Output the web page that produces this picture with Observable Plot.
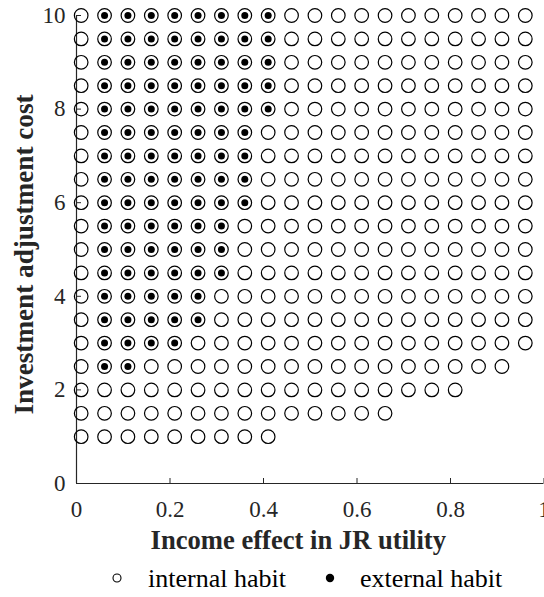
<!DOCTYPE html>
<html>
<head>
<meta charset="utf-8">
<script src="https://cdn.jsdelivr.net/npm/d3@7"></script>
<script src="https://cdn.jsdelivr.net/npm/@observablehq/plot@0.6"></script>
<style>
  body { margin: 0; background: #fff; font-family: "Liberation Serif", "Times New Roman", serif; }
  #legend { position: relative; width: 544px; height: 37px; color: #000; }
  #legend svg, #legend span { position: absolute; }
  #legend span { font-size: 26px; line-height: 26px; white-space: nowrap; }
</style>
</head>
<body>
<div id="chart"></div>
<div id="legend"></div>
<script>
// Grid of parameter pairs that were tried
const incomeEffect = [0.01, 0.06, 0.11, 0.16, 0.21, 0.26, 0.31, 0.36, 0.41, 0.46,
                      0.51, 0.56, 0.61, 0.66, 0.71, 0.76, 0.81, 0.86, 0.91, 0.96];
const adjustmentCost = [1, 1.5, 2, 2.5, 3, 3.5, 4, 4.5, 5, 5.5,
                        6, 6.5, 7, 7.5, 8, 8.5, 9, 9.5, 10];

// Largest income effect with a solution under internal habit, for each adjustment cost
const internalMax = [0.41, 0.66, 0.81, 0.91, 0.96, 0.96, 0.96, 0.96, 0.96, 0.96,
                     0.96, 0.96, 0.96, 0.96, 0.96, 0.96, 0.96, 0.96, 0.96];
// Range of income effect with a solution under external habit (null: none)
const externalMin = [null, null, null, 0.06, 0.06, 0.06, 0.06, 0.06, 0.06, 0.06,
                     0.06, 0.06, 0.06, 0.06, 0.06, 0.06, 0.06, 0.06, 0.06];
const externalMax = [null, null, null, 0.11, 0.21, 0.26, 0.26, 0.31, 0.31, 0.31,
                     0.36, 0.36, 0.36, 0.36, 0.41, 0.41, 0.41, 0.41, 0.41];

const xTicks = [0, 0.2, 0.4, 0.6, 0.8, 1];
const yTicks = [0, 2, 4, 6, 8, 10];
const xLabel = "Income effect in JR utility";
const yLabel = "Investment adjustment cost";
const legendLabels = ["internal habit", "external habit"];

const eps = 1e-9;
const internal = [];
const external = [];
adjustmentCost.forEach((cost, i) => {
  incomeEffect.forEach((inc) => {
    if (inc <= internalMax[i] + eps) internal.push({inc, cost});
    if (externalMax[i] != null && inc >= externalMin[i] - eps && inc <= externalMax[i] + eps)
      external.push({inc, cost});
  });
});

const axisColor = "#262626";

const chart = Plot.plot({
  width: 544,
  height: 560,
  marginTop: 15,
  marginLeft: 76,
  marginRight: 0.5,
  marginBottom: 77,
  style: {fontFamily: "'Liberation Serif', 'Times New Roman', serif", fontSize: "23px", color: axisColor, background: "#fff", overflow: "visible"},
  x: {domain: [0, 1]},
  y: {domain: [0, 10]},
  marks: [
    Plot.ruleX([0], {stroke: axisColor, strokeWidth: 1.2}),
    Plot.ruleY([0], {stroke: axisColor, strokeWidth: 1.2}),
    Plot.axisX({ticks: xTicks, tickSize: -5, tickPadding: 22, tickFormat: (d) => String(d), label: null, fontSize: 23}),
    Plot.axisY({ticks: yTicks, tickSize: -5, tickPadding: 16, tickFormat: (d) => String(d), label: null, fontSize: 23}),
    Plot.dot(internal, {x: "inc", y: "cost", r: 6.8, stroke: "#000", strokeWidth: 1.2, fill: "none"}),
    Plot.dot(external, {x: "inc", y: "cost", r: 3.5, fill: "#000", stroke: "none"}),
    Plot.text([xLabel], {frameAnchor: "bottom", textAnchor: "middle", lineAnchor: "top", dy: 47, dx: -12, fontWeight: "bold", fontSize: 26.6, fill: axisColor}),
    Plot.text([yLabel], {frameAnchor: "left", textAnchor: "middle", lineAnchor: "middle", rotate: -90, dx: -52, dy: 5, fontWeight: "bold", fontSize: 27.2, fill: axisColor})
  ]
});
document.getElementById("chart").append(chart);

// Legend below the chart
const legend = d3.select("#legend");
const items = [
  {label: legendLabels[0], mx: 117, tx: 148, filled: false},
  {label: legendLabels[1], mx: 330, tx: 360, filled: true}
];
items.forEach((it) => {
  const s = legend.append("svg").attr("width", 12).attr("height", 12)
    .style("left", (it.mx - 6) + "px").style("top", (18 - 6) + "px");
  s.append("circle").attr("cx", 6).attr("cy", 6).attr("r", it.filled ? 4.2 : 4)
    .attr("fill", it.filled ? "#000" : "none").attr("stroke", "#000").attr("stroke-width", it.filled ? 0 : 1.1);
  legend.append("span").text(it.label).style("left", it.tx + "px").style("top", "6px");
});
</script>
</body>
</html>
